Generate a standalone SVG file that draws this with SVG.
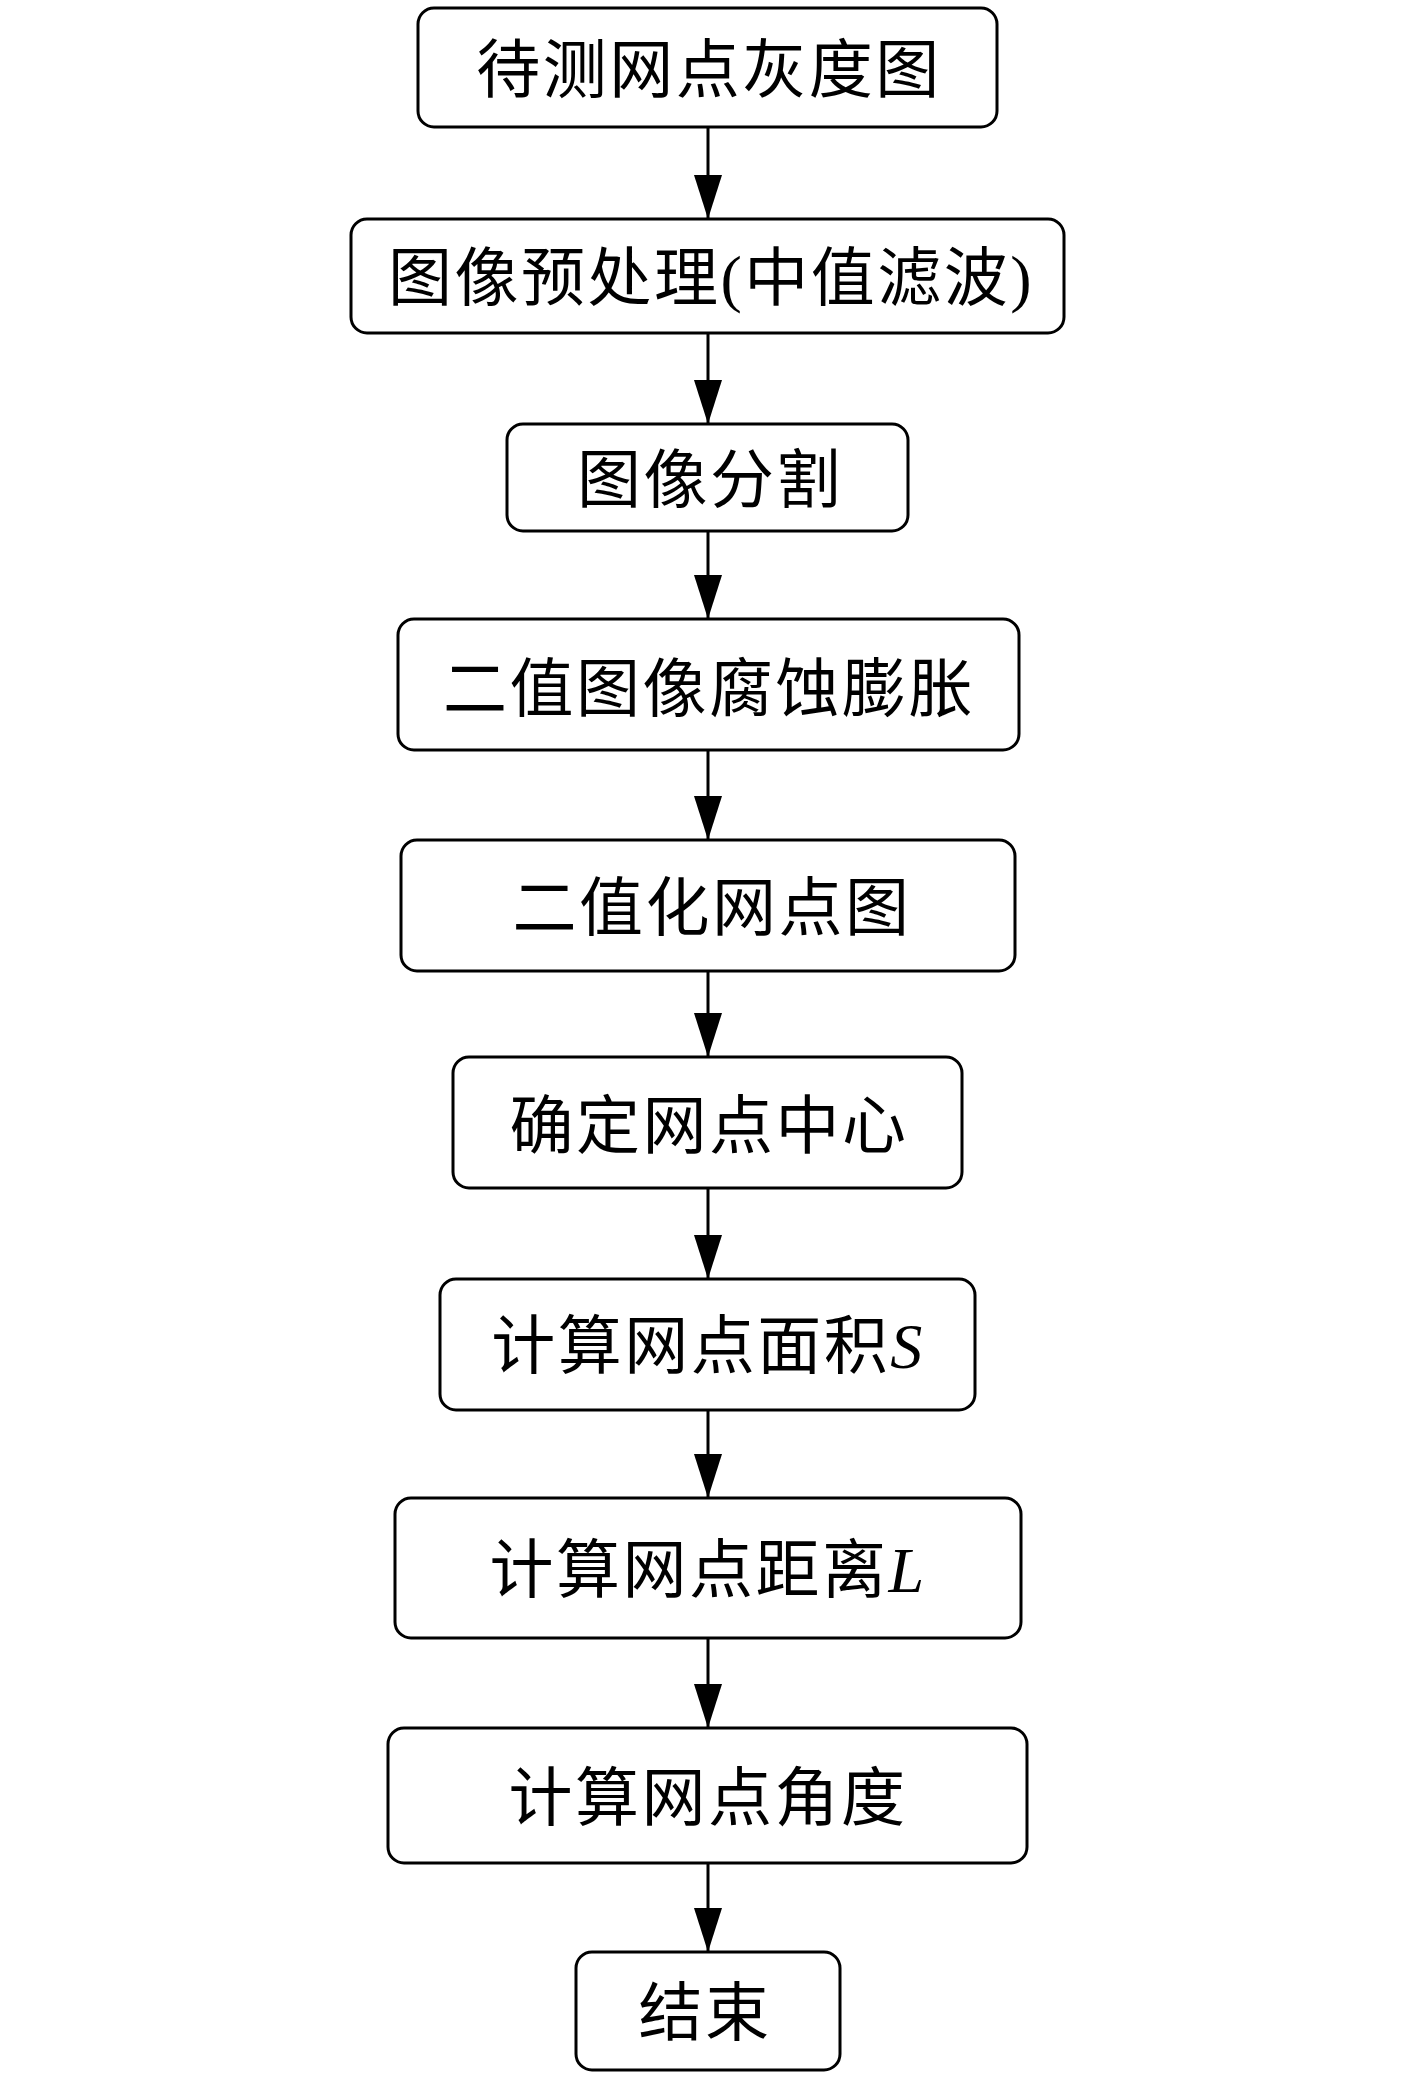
<svg xmlns="http://www.w3.org/2000/svg" width="1417" height="2079" viewBox="0 0 1417 2079">
<style>
.box{fill:#fff;stroke:#000;stroke-width:3}
.lbl{font-family:"Liberation Serif","Noto Sans CJK SC",serif;font-size:64px;letter-spacing:2.5px;text-anchor:middle;fill:#000}
.it{font-style:italic}
.conn{stroke:#000;stroke-width:3;fill:none}
</style>
<defs>
<marker id="ah" markerUnits="userSpaceOnUse" markerWidth="46" markerHeight="30" refX="44" refY="14" orient="auto" viewBox="0 0 46 30">
<path d="M0,0 L44,14 L0,28 z" fill="#000"/>
</marker>
</defs>
<rect width="1417" height="2079" fill="#fff"/>
<g id="connectors">
<line class="conn" x1="708" y1="127" x2="708" y2="219" marker-end="url(#ah)"/>
<line class="conn" x1="708" y1="333" x2="708" y2="424" marker-end="url(#ah)"/>
<line class="conn" x1="708" y1="531" x2="708" y2="619" marker-end="url(#ah)"/>
<line class="conn" x1="708" y1="750" x2="708" y2="840" marker-end="url(#ah)"/>
<line class="conn" x1="708" y1="971" x2="708" y2="1057" marker-end="url(#ah)"/>
<line class="conn" x1="708" y1="1188" x2="708" y2="1279" marker-end="url(#ah)"/>
<line class="conn" x1="708" y1="1410" x2="708" y2="1498" marker-end="url(#ah)"/>
<line class="conn" x1="708" y1="1638" x2="708" y2="1728" marker-end="url(#ah)"/>
<line class="conn" x1="708" y1="1863" x2="708" y2="1952" marker-end="url(#ah)"/>
</g>
<g id="n1"><rect class="box" x="418" y="8" width="579" height="119" rx="16"/><text class="lbl" x="709" y="92">待测网点灰度图</text></g>
<g id="n2"><rect class="box" x="351" y="219" width="713" height="114" rx="16"/><text class="lbl" x="711" y="300">图像预处理(中值滤波)</text></g>
<g id="n3"><rect class="box" x="507" y="424" width="401" height="107" rx="16"/><text class="lbl" x="710" y="502">图像分割</text></g>
<g id="n4"><rect class="box" x="398" y="619" width="621" height="131" rx="16"/><text class="lbl" x="709" y="711">二值图像腐蚀膨胀</text></g>
<g id="n5"><rect class="box" x="401" y="840" width="614" height="131" rx="16"/><text class="lbl" x="712" y="930">二值化网点图</text></g>
<g id="n6"><rect class="box" x="453" y="1057" width="509" height="131" rx="16"/><text class="lbl" x="709" y="1148">确定网点中心</text></g>
<g id="n7"><rect class="box" x="440" y="1279" width="535" height="131" rx="16"/><text class="lbl" x="708" y="1368">计算网点面积<tspan class="it">S</tspan></text></g>
<g id="n8"><rect class="box" x="395" y="1498" width="626" height="140" rx="16"/><text class="lbl" x="708" y="1592">计算网点距离<tspan class="it">L</tspan></text></g>
<g id="n9"><rect class="box" x="388" y="1728" width="639" height="135" rx="16"/><text class="lbl" x="708" y="1820">计算网点角度</text></g>
<g id="n10"><rect class="box" x="576" y="1952" width="264" height="118" rx="16"/><text class="lbl" x="705" y="2035">结束</text></g>
</svg>
